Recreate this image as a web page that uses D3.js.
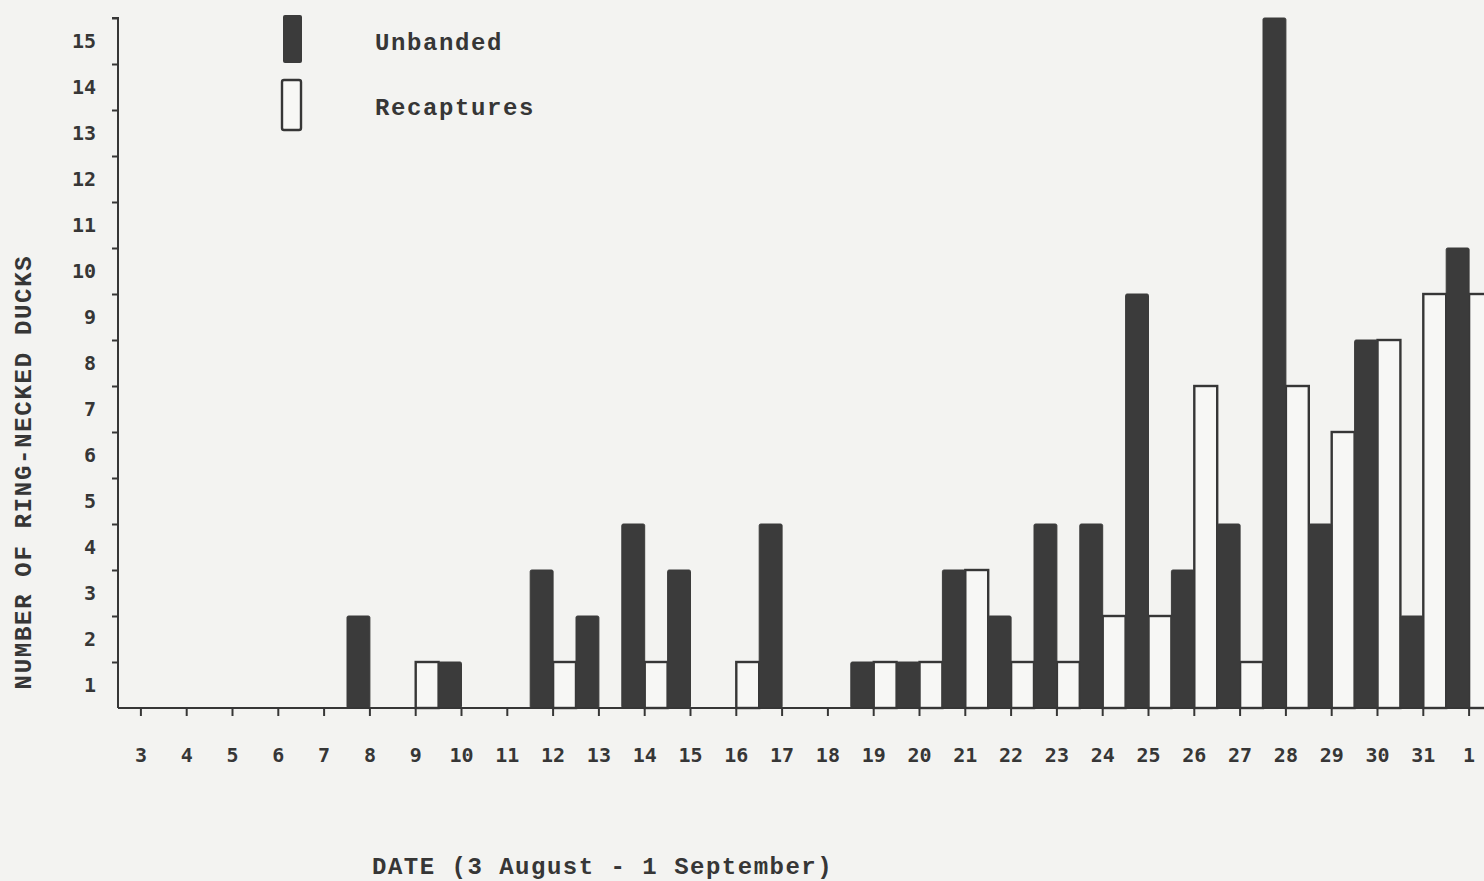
<!DOCTYPE html>
<html>
<head>
<meta charset="utf-8">
<script src="https://cdn.jsdelivr.net/npm/d3@7"></script>
<style>
  html, body { margin: 0; padding: 0; background: #f3f3f1; overflow: hidden; }
  svg { display: block; }
</style>
</head>
<body>
<svg id="chart" width="1484" height="881"></svg>
<script>
// ---- data ----
const days = ["3","4","5","6","7","8","9","10","11","12","13","14","15","16","17","18","19","20","21","22","23","24","25","26","27","28","29","30","31","1"];
const unbanded   = [0,0,0,0,0,2,0,1,0,3,2,4,3,0,4,0,1,1,3,2,4,4,9,3,4,15,4,8,2,10];
const recaptures = [0,0,0,0,0,0,1,0,0,1,0,1,0,1,0,0,1,1,3,1,1,2,2,7,1,7,6,8,9,9];
const yTicks = [1,2,3,4,5,6,7,8,9,10,11,12,13,14,15];
const seriesNames = ["Unbanded", "Recaptures"];
const xTitle = "DATE (3 August - 1 September)";
const yTitle = "NUMBER OF RING-NECKED DUCKS";

// ---- layout ----
const ink = "#363636";
const barInk = "#3b3b3b";
const svg = d3.select("#chart");
const left = 118, baseY = 708, topY = 18;
const step = 45.8;

const x = d3.scaleBand().domain(days).range([left, left + step * days.length]).paddingInner(0).paddingOuter(0);
const half = x.bandwidth() / 2;
const y = d3.scaleLinear().domain([0, 15]).range([baseY, topY]);

const serif = "'Liberation Mono', 'Courier New', monospace";
const numFont = "'DejaVu Sans Mono', monospace";

// bars: recaptures (open) first so unbanded overlays
const g = svg.append("g");
g.selectAll("rect.rec").data(days.map((d, i) => ({d, v: recaptures[i]})).filter(o => o.v > 0))
  .enter().append("rect").attr("class", "rec")
  .attr("x", o => x(o.d) + half)
  .attr("width", half)
  .attr("y", o => y(o.v))
  .attr("height", o => y(0) - y(o.v))
  .attr("fill", "#f7f7f5").attr("stroke", ink).attr("stroke-width", 2.4);

g.selectAll("rect.unb").data(days.map((d, i) => ({d, v: unbanded[i]})).filter(o => o.v > 0))
  .enter().append("rect").attr("class", "unb")
  .attr("x", o => x(o.d))
  .attr("width", half)
  .attr("y", o => y(o.v))
  .attr("height", o => y(0) - y(o.v))
  .attr("fill", barInk).attr("stroke", barInk).attr("stroke-width", 1)
  .attr("rx", 1.5);

// x axis
const xAxis = d3.axisBottom(x).tickSize(8).tickSizeOuter(0).tickFormat("");
const xg = svg.append("g").attr("transform", `translate(0,${baseY})`).call(xAxis);
xg.select(".domain").attr("stroke", ink).attr("stroke-width", 2).attr("d", `M${left},0H1484`);
xg.selectAll(".tick line").attr("stroke", ink).attr("stroke-width", 2);
xg.selectAll(".tick").append("text")
  .attr("y", 54).attr("text-anchor", "middle")
  .attr("fill", ink).attr("font-family", numFont).attr("font-weight", "bold").attr("font-size", 20)
  .text(d => d);

// y axis
const yAxis = d3.axisLeft(y).tickValues(yTicks).tickSize(6).tickSizeOuter(0).tickFormat("");
const yg = svg.append("g").attr("transform", `translate(${left},0)`).call(yAxis);
yg.select(".domain").attr("stroke", ink).attr("stroke-width", 2)
  .attr("d", `M-6,${topY}H0V${baseY}`);
yg.selectAll(".tick line").attr("stroke", ink).attr("stroke-width", 2);
yg.selectAll("text.ylab").data(yTicks).enter().append("text").attr("class", "ylab")
  .attr("x", -22).attr("y", v => y(v - 0.5)).attr("dy", "0.35em")
  .attr("text-anchor", "end")
  .attr("fill", ink).attr("font-family", numFont).attr("font-weight", "bold").attr("font-size", 20)
  .text(v => v);

// axis titles
svg.append("text")
  .attr("x", 372).attr("y", 874)
  .attr("fill", ink).attr("font-family", serif).attr("font-weight", "bold").attr("font-size", 24).attr("letter-spacing", 1.5)
  .text(xTitle);

svg.append("text")
  .attr("transform", `translate(31,${472}) rotate(-90)`)
  .attr("text-anchor", "middle")
  .attr("fill", ink).attr("font-family", serif).attr("font-weight", "bold").attr("font-size", 24).attr("letter-spacing", 1.7)
  .text(yTitle);

// legend
const leg = svg.append("g");
leg.append("rect").attr("x", 283).attr("y", 15).attr("width", 19).attr("height", 48)
  .attr("fill", barInk).attr("rx", 2);
leg.append("rect").attr("x", 282).attr("y", 80).attr("width", 19).attr("height", 50)
  .attr("fill", "#f7f7f5").attr("stroke", ink).attr("stroke-width", 2.4).attr("rx", 2);
leg.selectAll("text").data(seriesNames).enter().append("text")
  .attr("x", 375).attr("y", (d, i) => 50 + i * 65)
  .attr("fill", ink).attr("font-family", serif).attr("font-weight", "bold").attr("font-size", 24).attr("letter-spacing", 1.6)
  .text(d => d);
</script>
</body>
</html>
